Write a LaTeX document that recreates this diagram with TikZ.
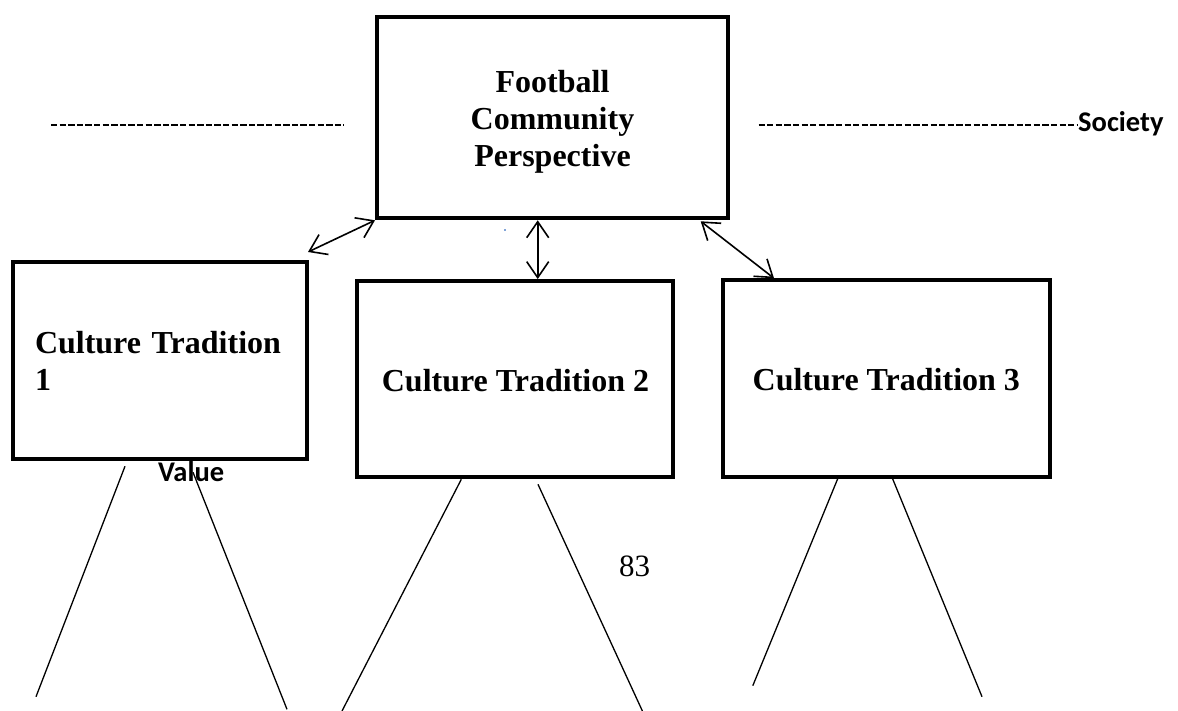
\documentclass[tikz,border=0pt]{standalone}
\usepackage{fontspec}
\setmainfont{Liberation Serif}
\newfontfamily\calibrifont{Carlito}
\usetikzlibrary{arrows.meta,calc}

\begin{document}
\begin{tikzpicture}[x=1pt,y=-1pt,
  frame/.style={draw, rectangle, line width=4pt, inner sep=0pt, outer sep=0pt},
  boxtext/.style={font=\bfseries\fontsize{32}{37}\selectfont, inner sep=0pt, anchor=base},
  tag/.style={font=\calibrifont\bfseries\fontsize{28.5}{32}\selectfont, inner sep=0pt, anchor=base west},
  link/.style={line width=1.6pt, {Straight Barb[length=16pt,width=22pt]}-{Straight Barb[length=16pt,width=22pt]}},
  leg/.style={line width=1.3pt},
  guide/.style={line width=1.5pt, dash pattern=on 6.3pt off 2.3pt}]

% canvas
\fill[white] (0,0) rectangle (1178,711);
\useasboundingbox (0,0) rectangle (1178,711);

% boxes
\node[frame, minimum width=351pt, minimum height=201pt] (top) at (552.5,117.8) {};
\node[frame, minimum width=294pt, minimum height=197pt] (ct1) at (160,360.5) {};
\node[frame, minimum width=315.6pt, minimum height=196.3pt] (ct2) at (515.2,379.2) {};
\node[frame, minimum width=327.6pt, minimum height=196.3pt] (ct3) at (886.4,378.4) {};

% box labels (a centred multi-line node sits on its last baseline)
\node[boxtext, align=center] (toptxt) at (552.5,166.7) {Football\\Community\\Perspective};
\node[boxtext, text width=250pt, align=left] (ct1txt) at (160,353.3) {Culture Tradition\\1};
\node[boxtext] (ct2txt) at (515.5,391.7) {Culture Tradition 2};
\node[boxtext] (ct3txt) at (886.3,390.7) {Culture Tradition 3};

% side labels
\node[tag] (soc) at (1078,132) {Society};
\node[tag] (val) at (158,481) {Value};
\node[font=\fontsize{31}{36}\selectfont, inner sep=0pt, anchor=base west] (pg) at (619,576.7) {83};

% dashed level lines
\coordinate (dl1) at (51,125);
\coordinate (dl2) at (344,125);
\coordinate (dr1) at (758.5,125);
\coordinate (dr2) at (1077,125);
\draw[guide] (dl1) -- (dl2);
\draw[guide] (dr1) -- (dr2);

% two-way links
\draw[link] ($(top.south west)+(-2,2)$) -- ($(ct1.north east)+(1,-10)$);
\draw[link] ($(top.south)+(-14.8,2)$) -- ($(ct2.north)+(22.5,-2)$);
\draw[link] ($(top.south east)+(-27.3,3)$) -- ($(ct3.north west)+(51.4,-2)$);

% legs under each tradition
\coordinate (l1a) at (36,696.7);
\coordinate (l1b) at (287,709.3);
\coordinate (l2a) at (342,711);
\coordinate (l2b) at (642.4,711);
\coordinate (l3a) at (752.8,685.7);
\coordinate (l3b) at (982,696.7);
\draw[leg] ($(ct1.south)+(-35,7.3)$) -- (l1a);
\draw[leg] ($(ct1.south)+(33,13.3)$) -- (l1b);
\draw[leg] ($(ct2.south)+(-53.9,2)$) -- (l2a);
\draw[leg] ($(ct2.south)+(22.8,7)$) -- (l2b);
\draw[leg] ($(ct3.south)+(-48.7,2.2)$) -- (l3a);
\draw[leg] ($(ct3.south)+(6.2,2.2)$) -- (l3b);

% stray ink speck
\fill[blue!60!cyan!70!black] (505,230) circle (0.8);
\end{tikzpicture}
\end{document}
